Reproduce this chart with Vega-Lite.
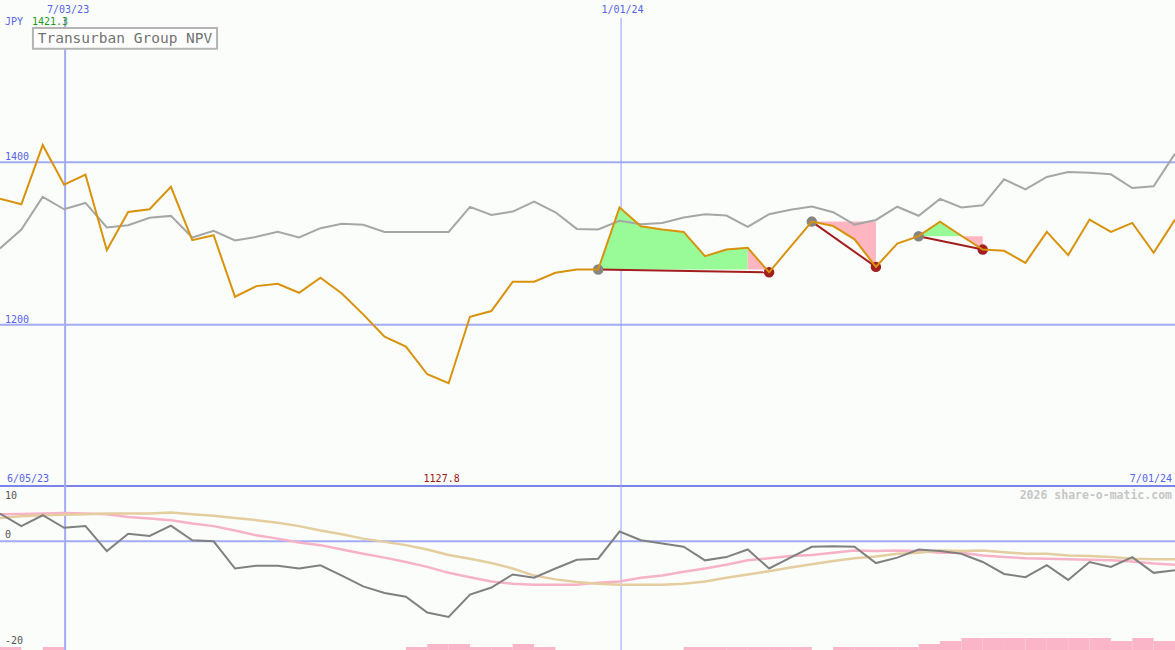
{
  "$schema": "https://vega.github.io/schema/vega-lite/v6.json",
  "background": "#FBFDFB",
  "padding": 0,
  "bounds": "flush",
  "spacing": 0,
  "config": {
    "view": {"stroke": null},
    "axis": {"disable": true},
    "legend": {"disable": true},
    "text": {"font": "DejaVu Sans Mono", "fontSize": 10, "baseline": "middle"}
  },
  "datasets": {
    "weekly": [
      {"date": "2023-06-12", "price": 1355.3, "market": 1293.9, "osc": 5.1, "fast": 5.0, "slow": 4.3},
      {"date": "2023-06-19", "price": 1348.4, "market": 1317.2, "osc": 2.8, "fast": 5.05, "slow": 4.6},
      {"date": "2023-06-26", "price": 1421.3, "market": 1357.4, "osc": 4.8, "fast": 5.1, "slow": 4.8},
      {"date": "2023-07-03", "price": 1372.5, "market": 1342.2, "osc": 2.5, "fast": 5.2, "slow": 4.9},
      {"date": "2023-07-10", "price": 1384.8, "market": 1350.0, "osc": 2.8, "fast": 5.1, "slow": 5.0},
      {"date": "2023-07-17", "price": 1291.8, "market": 1319.7, "osc": -1.8, "fast": 5.0, "slow": 5.1},
      {"date": "2023-07-24", "price": 1338.9, "market": 1322.5, "osc": 1.4, "fast": 4.5, "slow": 5.1},
      {"date": "2023-07-31", "price": 1342.2, "market": 1331.6, "osc": 1.0, "fast": 4.2, "slow": 5.1},
      {"date": "2023-08-07", "price": 1369.7, "market": 1334.0, "osc": 2.9, "fast": 3.9, "slow": 5.3},
      {"date": "2023-08-14", "price": 1304.1, "market": 1307.4, "osc": 0.2, "fast": 3.3, "slow": 5.0},
      {"date": "2023-08-21", "price": 1310.2, "market": 1315.6, "osc": 0.0, "fast": 2.8, "slow": 4.7},
      {"date": "2023-08-28", "price": 1234.4, "market": 1303.7, "osc": -5.0, "fast": 2.0, "slow": 4.3},
      {"date": "2023-09-04", "price": 1247.5, "market": 1308.2, "osc": -4.5, "fast": 1.1, "slow": 3.9},
      {"date": "2023-09-11", "price": 1250.4, "market": 1314.3, "osc": -4.5, "fast": 0.5, "slow": 3.4},
      {"date": "2023-09-18", "price": 1239.3, "market": 1307.4, "osc": -5.0, "fast": -0.2, "slow": 2.8},
      {"date": "2023-09-25", "price": 1257.8, "market": 1318.9, "osc": -4.4, "fast": -0.7, "slow": 2.0},
      {"date": "2023-10-02", "price": 1238.5, "market": 1324.2, "osc": -6.3, "fast": -1.5, "slow": 1.3},
      {"date": "2023-10-09", "price": 1212.7, "market": 1323.0, "osc": -8.3, "fast": -2.3, "slow": 0.5},
      {"date": "2023-10-16", "price": 1185.2, "market": 1314.3, "osc": -9.5, "fast": -3.0, "slow": -0.1},
      {"date": "2023-10-23", "price": 1172.9, "market": 1314.3, "osc": -10.2, "fast": -3.8, "slow": -0.7},
      {"date": "2023-10-30", "price": 1138.9, "market": 1314.3, "osc": -13.1, "fast": -4.7, "slow": -1.5},
      {"date": "2023-11-06", "price": 1127.8, "market": 1314.3, "osc": -13.9, "fast": -5.8, "slow": -2.5},
      {"date": "2023-11-13", "price": 1209.8, "market": 1345.1, "osc": -9.8, "fast": -6.6, "slow": -3.2},
      {"date": "2023-11-20", "price": 1216.8, "market": 1335.2, "osc": -8.5, "fast": -7.4, "slow": -4.0},
      {"date": "2023-11-27", "price": 1252.9, "market": 1339.3, "osc": -6.1, "fast": -7.8, "slow": -5.0},
      {"date": "2023-12-04", "price": 1252.9, "market": 1351.6, "osc": -6.7, "fast": -8.0, "slow": -6.3},
      {"date": "2023-12-11", "price": 1263.9, "market": 1338.5, "osc": -5.0, "fast": -8.0, "slow": -7.0},
      {"date": "2023-12-18", "price": 1268.0, "market": 1318.0, "osc": -3.4, "fast": -8.0, "slow": -7.5},
      {"date": "2023-12-25", "price": 1268.0, "market": 1317.2, "osc": -3.2, "fast": -7.6, "slow": -7.8},
      {"date": "2024-01-01", "price": 1344.3, "market": 1327.9, "osc": 1.8, "fast": -7.4, "slow": -8.0},
      {"date": "2024-01-08", "price": 1321.3, "market": 1323.8, "osc": 0.2, "fast": -6.7, "slow": -8.0},
      {"date": "2024-01-15", "price": 1317.2, "market": 1325.4, "osc": -0.4, "fast": -6.3, "slow": -8.0},
      {"date": "2024-01-22", "price": 1314.3, "market": 1332.0, "osc": -1.0, "fast": -5.6, "slow": -7.8},
      {"date": "2024-01-29", "price": 1284.4, "market": 1336.1, "osc": -3.5, "fast": -5.0, "slow": -7.4},
      {"date": "2024-02-05", "price": 1292.6, "market": 1334.4, "osc": -2.9, "fast": -4.3, "slow": -6.7},
      {"date": "2024-02-12", "price": 1294.7, "market": 1320.5, "osc": -1.5, "fast": -3.5, "slow": -6.1},
      {"date": "2024-02-19", "price": 1264.5, "market": 1336.1, "osc": -5.0, "fast": -3.1, "slow": -5.5},
      {"date": "2024-02-26", "price": 1295.9, "market": 1341.5, "osc": -3.0, "fast": -2.7, "slow": -4.8},
      {"date": "2024-03-04", "price": 1327.0, "market": 1345.5, "osc": -1.0, "fast": -2.5, "slow": -4.2},
      {"date": "2024-03-11", "price": 1321.5, "market": 1338.5, "osc": -0.9, "fast": -2.1, "slow": -3.6},
      {"date": "2024-03-18", "price": 1305.1, "market": 1323.3, "osc": -1.0, "fast": -1.7, "slow": -3.1},
      {"date": "2024-03-25", "price": 1271.2, "market": 1329.0, "osc": -4.0, "fast": -1.8, "slow": -2.8},
      {"date": "2024-04-01", "price": 1300.0, "market": 1345.3, "osc": -3.0, "fast": -1.7, "slow": -2.3},
      {"date": "2024-04-08", "price": 1309.0, "market": 1334.2, "osc": -1.5, "fast": -1.8, "slow": -2.1},
      {"date": "2024-04-15", "price": 1327.0, "market": 1355.0, "osc": -1.8, "fast": -2.1, "slow": -1.7},
      {"date": "2024-04-22", "price": 1309.5, "market": 1344.3, "osc": -2.3, "fast": -2.1, "slow": -1.8},
      {"date": "2024-04-29", "price": 1292.5, "market": 1347.1, "osc": -3.8, "fast": -2.6, "slow": -1.7},
      {"date": "2024-05-06", "price": 1291.0, "market": 1379.1, "osc": -6.0, "fast": -2.9, "slow": -2.0},
      {"date": "2024-05-13", "price": 1276.2, "market": 1366.8, "osc": -6.6, "fast": -3.1, "slow": -2.3},
      {"date": "2024-05-20", "price": 1314.3, "market": 1382.0, "osc": -4.4, "fast": -3.2, "slow": -2.3},
      {"date": "2024-05-27", "price": 1285.7, "market": 1388.1, "osc": -7.1, "fast": -3.3, "slow": -2.6},
      {"date": "2024-06-03", "price": 1329.5, "market": 1387.3, "osc": -3.8, "fast": -3.4, "slow": -2.7},
      {"date": "2024-06-10", "price": 1314.3, "market": 1385.2, "osc": -4.7, "fast": -3.5, "slow": -2.9},
      {"date": "2024-06-17", "price": 1325.4, "market": 1368.4, "osc": -2.9, "fast": -3.7, "slow": -3.2},
      {"date": "2024-06-24", "price": 1288.5, "market": 1370.5, "osc": -5.8, "fast": -4.1, "slow": -3.3},
      {"date": "2024-07-01", "price": 1329.5, "market": 1410.7, "osc": -5.3, "fast": -4.3, "slow": -3.3}
    ],
    "fills": [
      {"seg": "t1g", "phase": "gain", "date": "2023-12-25", "price": 1268.0, "base": 1268.0},
      {"seg": "t1g", "phase": "gain", "date": "2024-01-01", "price": 1344.3, "base": 1268.0},
      {"seg": "t1g", "phase": "gain", "date": "2024-01-08", "price": 1321.3, "base": 1268.0},
      {"seg": "t1g", "phase": "gain", "date": "2024-01-15", "price": 1317.2, "base": 1268.0},
      {"seg": "t1g", "phase": "gain", "date": "2024-01-22", "price": 1314.3, "base": 1268.0},
      {"seg": "t1g", "phase": "gain", "date": "2024-01-29", "price": 1284.4, "base": 1268.0},
      {"seg": "t1g", "phase": "gain", "date": "2024-02-05", "price": 1292.6, "base": 1268.0},
      {"seg": "t1g", "phase": "gain", "date": "2024-02-12", "price": 1294.7, "base": 1268.0},
      {"seg": "t1p", "phase": "loss", "date": "2024-02-12", "price": 1294.7, "base": 1268.0},
      {"seg": "t1p", "phase": "loss", "date": "2024-02-19", "price": 1264.5, "base": 1268.0},
      {"seg": "t2p", "phase": "loss", "date": "2024-03-04", "price": 1327.0, "base": 1327.0},
      {"seg": "t2p", "phase": "loss", "date": "2024-03-11", "price": 1321.5, "base": 1327.0},
      {"seg": "t2p", "phase": "loss", "date": "2024-03-18", "price": 1305.1, "base": 1327.0},
      {"seg": "t2p", "phase": "loss", "date": "2024-03-25", "price": 1271.2, "base": 1327.0},
      {"seg": "t3g", "phase": "gain", "date": "2024-04-08", "price": 1309.0, "base": 1309.0},
      {"seg": "t3g", "phase": "gain", "date": "2024-04-15", "price": 1327.0, "base": 1309.0},
      {"seg": "t3g", "phase": "gain", "date": "2024-04-22", "price": 1309.5, "base": 1309.0},
      {"seg": "t3p", "phase": "loss", "date": "2024-04-22", "price": 1309.5, "base": 1309.0},
      {"seg": "t3p", "phase": "loss", "date": "2024-04-29", "price": 1292.5, "base": 1309.0}
    ],
    "trades": [
      {"trade": 1, "kind": "buy", "date": "2023-12-25", "price": 1268.0},
      {"trade": 1, "kind": "sell", "date": "2024-02-19", "price": 1264.5},
      {"trade": 2, "kind": "buy", "date": "2024-03-04", "price": 1327.0},
      {"trade": 2, "kind": "sell", "date": "2024-03-25", "price": 1271.2},
      {"trade": 3, "kind": "buy", "date": "2024-04-08", "price": 1309.0},
      {"trade": 3, "kind": "sell", "date": "2024-04-29", "price": 1292.5}
    ],
    "bars": [
      {"date": "2023-06-12", "end": "2023-06-19", "level": 1},
      {"date": "2023-06-26", "end": "2023-07-03", "level": 1},
      {"date": "2023-10-23", "end": "2023-10-30", "level": 1},
      {"date": "2023-10-30", "end": "2023-11-06", "level": 2},
      {"date": "2023-11-06", "end": "2023-11-13", "level": 2},
      {"date": "2023-11-13", "end": "2023-11-20", "level": 1},
      {"date": "2023-11-20", "end": "2023-11-27", "level": 1},
      {"date": "2023-11-27", "end": "2023-12-04", "level": 2},
      {"date": "2023-12-04", "end": "2023-12-11", "level": 1},
      {"date": "2024-01-22", "end": "2024-01-29", "level": 1},
      {"date": "2024-01-29", "end": "2024-02-05", "level": 1},
      {"date": "2024-02-05", "end": "2024-02-12", "level": 1},
      {"date": "2024-02-12", "end": "2024-02-19", "level": 1},
      {"date": "2024-02-19", "end": "2024-02-26", "level": 1},
      {"date": "2024-02-26", "end": "2024-03-04", "level": 1},
      {"date": "2024-03-11", "end": "2024-03-18", "level": 1},
      {"date": "2024-03-18", "end": "2024-03-25", "level": 1},
      {"date": "2024-03-25", "end": "2024-04-01", "level": 1},
      {"date": "2024-04-01", "end": "2024-04-08", "level": 1},
      {"date": "2024-04-08", "end": "2024-04-15", "level": 2},
      {"date": "2024-04-15", "end": "2024-04-22", "level": 3},
      {"date": "2024-04-22", "end": "2024-04-29", "level": 4},
      {"date": "2024-04-29", "end": "2024-05-06", "level": 4},
      {"date": "2024-05-06", "end": "2024-05-13", "level": 4},
      {"date": "2024-05-13", "end": "2024-05-20", "level": 4},
      {"date": "2024-05-20", "end": "2024-05-27", "level": 4},
      {"date": "2024-05-27", "end": "2024-06-03", "level": 4},
      {"date": "2024-06-03", "end": "2024-06-10", "level": 4},
      {"date": "2024-06-10", "end": "2024-06-17", "level": 3},
      {"date": "2024-06-17", "end": "2024-06-24", "level": 4},
      {"date": "2024-06-24", "end": "2024-07-01", "level": 3}
    ]
  },
  "vconcat": [
    {
      "width": 1175,
      "height": 487,
      "resolve": {"scale": {"color": "independent"}},
      "layer": [
        {
          "data": {"values": [{"level": 1400}, {"level": 1200}]},
          "mark": {"type": "rule", "color": "#A3ABF5", "strokeWidth": 2, "clip": true},
          "encoding": {"y": {"field": "level", "type": "quantitative", "scale": {"domain": [1000, 1597.5]}}}
        },
        {
          "data": {"values": [{}]},
          "mark": {"type": "rule", "color": "#7C84EC", "strokeWidth": 2, "clip": true},
          "encoding": {"y": {"datum": 1001.2, "type": "quantitative", "scale": {"domain": [1000, 1597.5]}}}
        },
        {
          "data": {"values": [{}]},
          "mark": {"type": "rule", "color": "#A3ABF5", "strokeWidth": 2, "clip": true},
          "encoding": {
            "x": {"datum": {"year": 2023, "month": 7, "date": 3, "hours": 8, "utc": true}, "type": "temporal", "scale": {"type": "utc", "domain": [{"year": 2023, "month": 6, "date": 12, "utc": true}, {"year": 2024, "month": 7, "date": 1, "utc": true}]}},
            "y": {"datum": 1578, "type": "quantitative"},
            "y2": {"datum": 1000}
          }
        },
        {
          "data": {"values": [{}]},
          "mark": {"type": "rule", "color": "#95A0F8", "strokeWidth": 1, "clip": true},
          "encoding": {
            "x": {"datum": {"year": 2024, "month": 1, "date": 1, "hours": 12, "utc": true}, "type": "temporal"},
            "y": {"datum": 1578, "type": "quantitative"},
            "y2": {"datum": 1000}
          }
        },
        {
          "data": {"name": "fills"},
          "mark": {"type": "area", "opacity": 1, "clip": true},
          "encoding": {
            "x": {"field": "date", "type": "temporal"},
            "y": {"field": "price", "type": "quantitative", "scale": {"domain": [1000, 1597.5]}},
            "y2": {"field": "base"},
            "detail": {"field": "seg"},
            "color": {"field": "phase", "type": "nominal", "scale": {"domain": ["gain", "loss"], "range": ["#98FB98", "#FFB6C1"]}}
          }
        },
        {
          "data": {"name": "weekly"},
          "mark": {"type": "line", "color": "#A6A6A6", "strokeWidth": 2, "clip": true},
          "encoding": {
            "x": {"field": "date", "type": "temporal"},
            "y": {"field": "market", "type": "quantitative", "scale": {"domain": [1000, 1597.5]}}
          }
        },
        {
          "data": {"name": "trades"},
          "mark": {"type": "line", "color": "#A31E1E", "strokeWidth": 2, "clip": true},
          "encoding": {
            "x": {"field": "date", "type": "temporal"},
            "y": {"field": "price", "type": "quantitative", "scale": {"domain": [1000, 1597.5]}},
            "detail": {"field": "trade"}
          }
        },
        {
          "data": {"name": "trades"},
          "mark": {"type": "point", "filled": true, "opacity": 1, "size": 110},
          "encoding": {
            "x": {"field": "date", "type": "temporal"},
            "y": {"field": "price", "type": "quantitative", "scale": {"domain": [1000, 1597.5]}},
            "color": {"field": "kind", "type": "nominal", "scale": {"domain": ["buy", "sell"], "range": ["#858585", "#A31E1E"]}}
          }
        },
        {
          "data": {"name": "weekly"},
          "mark": {"type": "line", "color": "#D8920C", "strokeWidth": 2, "clip": true},
          "encoding": {
            "x": {"field": "date", "type": "temporal"},
            "y": {"field": "price", "type": "quantitative", "scale": {"domain": [1000, 1597.5]}}
          }
        },
        {
          "data": {"values": [{}]},
          "mark": {"type": "rect", "fill": "#FFFFFF", "stroke": "#B4B4B4", "strokeWidth": 2},
          "encoding": {
            "x": {"datum": {"year": 2023, "month": 6, "date": 22, "hours": 19, "utc": true}, "type": "temporal"},
            "x2": {"datum": {"year": 2023, "month": 8, "date": 22, "hours": 3, "utc": true}},
            "y": {"datum": 1565.6, "type": "quantitative"},
            "y2": {"datum": 1539.8}
          }
        },
        {
          "data": {"values": [{}]},
          "mark": {"type": "text", "align": "center", "fontSize": 14.5, "color": "#727272"},
          "encoding": {
            "x": {"datum": {"year": 2023, "month": 7, "date": 22, "hours": 23, "utc": true}, "type": "temporal"},
            "y": {"datum": 1552.4, "type": "quantitative"},
            "text": {"value": "Transurban Group NPV"}
          }
        },
        {
          "data": {"values": [{}]},
          "mark": {"type": "text", "align": "center", "dx": 4, "color": "#5563E8"},
          "encoding": {
            "x": {"datum": {"year": 2023, "month": 7, "date": 3, "utc": true}, "type": "temporal"},
            "y": {"datum": 1587.7, "type": "quantitative"},
            "text": {"value": "7/03/23"}
          }
        },
        {
          "data": {"values": [{}]},
          "mark": {"type": "text", "align": "center", "dx": 3, "color": "#5563E8"},
          "encoding": {
            "x": {"datum": {"year": 2024, "month": 1, "date": 1, "utc": true}, "type": "temporal"},
            "y": {"datum": 1587.7, "type": "quantitative"},
            "text": {"value": "1/01/24"}
          }
        },
        {
          "data": {"values": [{}]},
          "mark": {"type": "text", "align": "left", "dx": 5, "color": "#5563E8"},
          "encoding": {
            "x": {"datum": {"year": 2023, "month": 6, "date": 12, "utc": true}, "type": "temporal"},
            "y": {"datum": 1573, "type": "quantitative"},
            "text": {"value": "JPY"}
          }
        },
        {
          "data": {"values": [{}]},
          "mark": {"type": "text", "align": "left", "dx": 32, "color": "#1E9A1E"},
          "encoding": {
            "x": {"datum": {"year": 2023, "month": 6, "date": 12, "utc": true}, "type": "temporal"},
            "y": {"datum": 1573, "type": "quantitative"},
            "text": {"value": "1421.3"}
          }
        },
        {
          "data": {"values": [{}]},
          "mark": {"type": "text", "align": "left", "dx": 5, "color": "#5563E8"},
          "encoding": {
            "x": {"datum": {"year": 2023, "month": 6, "date": 12, "utc": true}, "type": "temporal"},
            "y": {"datum": 1406.1, "type": "quantitative"},
            "text": {"value": "1400"}
          }
        },
        {
          "data": {"values": [{}]},
          "mark": {"type": "text", "align": "left", "dx": 5, "color": "#5563E8"},
          "encoding": {
            "x": {"datum": {"year": 2023, "month": 6, "date": 12, "utc": true}, "type": "temporal"},
            "y": {"datum": 1206.1, "type": "quantitative"},
            "text": {"value": "1200"}
          }
        },
        {
          "data": {"values": [{}]},
          "mark": {"type": "text", "align": "left", "dx": 7, "color": "#5563E8"},
          "encoding": {
            "x": {"datum": {"year": 2023, "month": 6, "date": 12, "utc": true}, "type": "temporal"},
            "y": {"datum": 1009.8, "type": "quantitative"},
            "text": {"value": "6/05/23"}
          }
        },
        {
          "data": {"values": [{}]},
          "mark": {"type": "text", "align": "center", "dx": -7, "color": "#A01515"},
          "encoding": {
            "x": {"datum": {"year": 2023, "month": 11, "date": 6, "utc": true}, "type": "temporal"},
            "y": {"datum": 1009.8, "type": "quantitative"},
            "text": {"value": "1127.8"}
          }
        },
        {
          "data": {"values": [{}]},
          "mark": {"type": "text", "align": "right", "dx": -3, "color": "#5563E8"},
          "encoding": {
            "x": {"datum": {"year": 2024, "month": 7, "date": 1, "utc": true}, "type": "temporal"},
            "y": {"datum": 1009.8, "type": "quantitative"},
            "text": {"value": "7/01/24"}
          }
        }
      ]
    },
    {
      "width": 1175,
      "height": 163,
      "resolve": {"scale": {"y": "independent"}},
      "layer": [
        {
          "data": {"name": "bars"},
          "mark": {"type": "rect", "color": "#FAB5C9", "clip": true},
          "encoding": {
            "x": {"field": "date", "type": "temporal", "scale": {"type": "utc", "domain": [{"year": 2023, "month": 6, "date": 12, "utc": true}, {"year": 2024, "month": 7, "date": 1, "utc": true}]}},
            "x2": {"field": "end"},
            "y": {"field": "level", "type": "quantitative", "scale": {"domain": [0, 54.33]}},
            "y2": {"datum": 0}
          }
        },
        {
          "data": {"values": [{}]},
          "mark": {"type": "rule", "color": "#A3ABF5", "strokeWidth": 2, "clip": true},
          "encoding": {"y": {"datum": 0, "type": "quantitative", "scale": {"domain": [-20, 10]}}}
        },
        {
          "data": {"values": [{}]},
          "mark": {"type": "rule", "color": "#A3ABF5", "strokeWidth": 2, "clip": true},
          "encoding": {"x": {"datum": {"year": 2023, "month": 7, "date": 3, "hours": 8, "utc": true}, "type": "temporal"}}
        },
        {
          "data": {"values": [{}]},
          "mark": {"type": "rule", "color": "#95A0F8", "strokeWidth": 1, "clip": true},
          "encoding": {"x": {"datum": {"year": 2024, "month": 1, "date": 1, "hours": 12, "utc": true}, "type": "temporal"}}
        },
        {
          "data": {"name": "weekly"},
          "mark": {"type": "line", "color": "#F8B2C8", "strokeWidth": 2.5, "clip": true},
          "encoding": {
            "x": {"field": "date", "type": "temporal"},
            "y": {"field": "fast", "type": "quantitative", "scale": {"domain": [-20, 10]}}
          }
        },
        {
          "data": {"name": "weekly"},
          "mark": {"type": "line", "color": "#E4CD9E", "strokeWidth": 2.5, "clip": true},
          "encoding": {
            "x": {"field": "date", "type": "temporal"},
            "y": {"field": "slow", "type": "quantitative", "scale": {"domain": [-20, 10]}}
          }
        },
        {
          "data": {"name": "weekly"},
          "mark": {"type": "line", "color": "#808080", "strokeWidth": 2, "clip": true},
          "encoding": {
            "x": {"field": "date", "type": "temporal"},
            "y": {"field": "osc", "type": "quantitative", "scale": {"domain": [-20, 10]}}
          }
        },
        {
          "data": {"values": [{}]},
          "mark": {"type": "text", "align": "left", "dx": 5, "color": "#555555"},
          "encoding": {
            "x": {"datum": {"year": 2023, "month": 6, "date": 12, "utc": true}, "type": "temporal"},
            "y": {"datum": 8.34, "type": "quantitative", "scale": {"domain": [-20, 10]}},
            "text": {"value": "10"}
          }
        },
        {
          "data": {"values": [{}]},
          "mark": {"type": "text", "align": "left", "dx": 5, "color": "#555555"},
          "encoding": {
            "x": {"datum": {"year": 2023, "month": 6, "date": 12, "utc": true}, "type": "temporal"},
            "y": {"datum": 1.17, "type": "quantitative", "scale": {"domain": [-20, 10]}},
            "text": {"value": "0"}
          }
        },
        {
          "data": {"values": [{}]},
          "mark": {"type": "text", "align": "left", "dx": 5, "color": "#555555"},
          "encoding": {
            "x": {"datum": {"year": 2023, "month": 6, "date": 12, "utc": true}, "type": "temporal"},
            "y": {"datum": -18.35, "type": "quantitative", "scale": {"domain": [-20, 10]}},
            "text": {"value": "-20"}
          }
        },
        {
          "data": {"values": [{}]},
          "mark": {"type": "text", "align": "right", "dx": -3, "fontSize": 11.5, "fontWeight": "bold", "color": "#C6C6C6"},
          "encoding": {
            "x": {"datum": {"year": 2024, "month": 7, "date": 1, "utc": true}, "type": "temporal"},
            "y": {"datum": 8.34, "type": "quantitative", "scale": {"domain": [-20, 10]}},
            "text": {"value": "2026 share-o-matic.com"}
          }
        }
      ]
    }
  ]
}
